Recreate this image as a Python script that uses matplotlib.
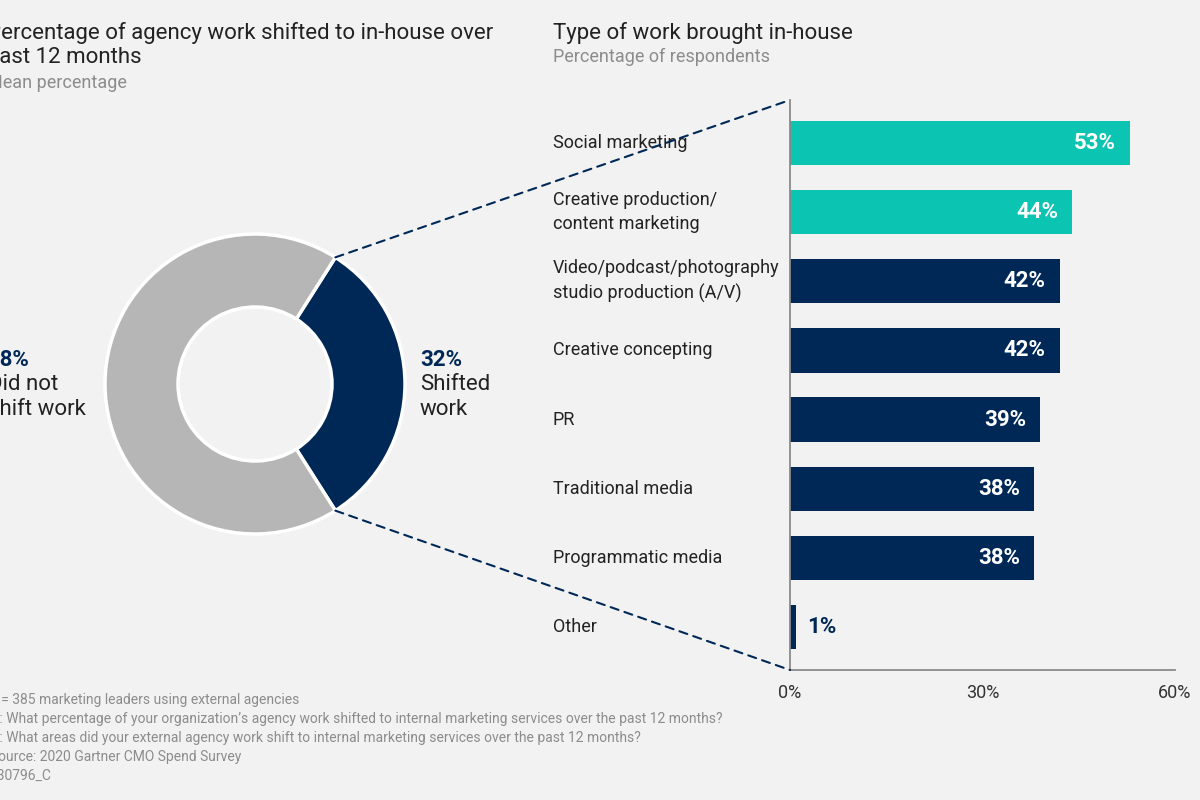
import numpy as np
import matplotlib
matplotlib.use("Agg")
import matplotlib.pyplot as plt
from matplotlib.patches import ConnectionPatch
from matplotlib.transforms import blended_transform_factory

plt.rcParams['font.family'] = ['Roboto', 'DejaVu Sans']

# data
donut_values = [32, 68]
donut_pct = ['32%', '68%']
donut_names = [['Shifted', 'work'], ['Did not', 'shift work']]

categories = [
    'Social marketing',
    'Creative production/\ncontent marketing',
    'Video/podcast/photography\nstudio production (A/V)',
    'Creative concepting',
    'PR',
    'Traditional media',
    'Programmatic media',
    'Other',
]
shares = [53, 44, 42, 42, 39, 38, 38, 1]
highlighted = [True, True, False, False, False, False, False, False]
x_ticks = [0, 30, 60]

left_title = ['Percentage of agency work shifted to in-house over', 'past 12 months']
left_sub = 'Mean percentage'
right_title = 'Type of work brought in-house'
right_sub = 'Percentage of respondents'

footnotes = [
    'n = 385 marketing leaders using external agencies',
    "Q: What percentage of your organization\u2019s agency work shifted to internal marketing services over the past 12 months?",
    'Q: What areas did your external agency work shift to internal marketing services over the past 12 months?',
    'Source: 2020 Gartner CMO Spend Survey',
    '730796_C',
]

BG = '#f2f2f2'
NAVY = '#002856'
TEAL = '#0bc4b1'
GREY = '#b6b6b6'
DARK = '#222222'
MUTED = '#8c8c8c'

W, H = 1200, 800
fig = plt.figure(figsize=(12, 8), dpi=100, facecolor=BG)


def fx(x):
    return x / W


def fy(y):
    return 1 - y / H


# ---- donut ----
R = 150
ax_pie = fig.add_axes([fx(95), fy(384 + 160), fx(320), 320 / H])
ax_pie.set_facecolor('none')
start = -donut_values[0] * 3.6 / 2
ax_pie.pie(donut_values, radius=R, startangle=start, counterclock=True,
           colors=[NAVY, GREY],
           wedgeprops=dict(width=73, edgecolor='white', linewidth=2.5))
ax_pie.set_xlim(-160, 160)
ax_pie.set_ylim(-160, 160)
ax_pie.set_aspect('equal')
ax_pie.axis('off')

# ---- bars ----
ax_bar = fig.add_axes([fx(790), fy(670), fx(385), 570 / H])
ax_bar.set_facecolor('none')
ypos = np.arange(len(categories))
bar_colors = [TEAL if h else NAVY for h in highlighted]
ax_bar.barh(ypos, shares, height=0.64, color=bar_colors, zorder=1)
ax_bar.set_xlim(0, 60)
ax_bar.set_ylim(len(categories) - 0.38, -0.62)
ax_bar.set_yticks([])
ax_bar.set_xticks(x_ticks)
ax_bar.set_xticklabels([f'{t}%' for t in x_ticks], fontsize=13, color='#333333')
ax_bar.tick_params(axis='x', length=0, pad=10)
for s in ['top', 'right']:
    ax_bar.spines[s].set_visible(False)
for s in ['left', 'bottom']:
    ax_bar.spines[s].set_color('#8a8a8a')
    ax_bar.spines[s].set_linewidth(1.3)

for i, v in enumerate(shares):
    if v >= 10:
        ax_bar.annotate(f'{v}%', (v, i), xytext=(-10, 0), textcoords='offset points',
                        ha='right', va='center', color='white', fontsize=16, fontweight='bold')
    else:
        ax_bar.annotate(f'{v}%', (v, i), xytext=(8, 0), textcoords='offset points',
                        ha='left', va='center', color=NAVY, fontsize=16, fontweight='bold')

trans = blended_transform_factory(fig.transFigure, ax_bar.transData)
for i, cat in enumerate(categories):
    ax_bar.text(fx(553), i, cat, transform=trans, ha='left', va='center',
                fontsize=13, color=DARK, linespacing=1.45)

# ---- dashed connectors ----
theta = np.radians(-start)
for sign, yb in [(1, 1), (-1, 0)]:
    con = ConnectionPatch(xyA=(R * np.cos(theta), sign * R * np.sin(theta)), coordsA=ax_pie.transData,
                          xyB=(0, yb), coordsB=ax_bar.transAxes,
                          color=NAVY, linewidth=1.5, linestyle=(0, (4, 3)))
    fig.add_artist(con)

# ---- donut labels ----
for xpos, pct, names in [(420, donut_pct[0], donut_names[0]), (-12, donut_pct[1], donut_names[1])]:
    fig.text(fx(xpos), fy(360), pct, ha='left', va='center', fontsize=16,
             fontweight='bold', color=NAVY)
    for k, nm in enumerate(names):
        fig.text(fx(xpos), fy(385 + 25 * k), nm, ha='left', va='center', fontsize=16, color=DARK)

# ---- titles ----
for k, line in enumerate(left_title):
    fig.text(fx(-13), fy(33 + 25 * k), line, ha='left', va='center', fontsize=16, color=DARK)
fig.text(fx(-13), fy(83), left_sub, ha='left', va='center', fontsize=13, color=MUTED)
fig.text(fx(553), fy(33), right_title, ha='left', va='center', fontsize=16, color=DARK)
fig.text(fx(553), fy(57), right_sub, ha='left', va='center', fontsize=13, color=MUTED)

# ---- footnotes ----
for k, line in enumerate(footnotes):
    fig.text(fx(-10), fy(700 + 19 * k), line, ha='left', va='center', fontsize=10, color=MUTED)

fig.savefig('out.png', dpi=100, facecolor=fig.get_facecolor())
